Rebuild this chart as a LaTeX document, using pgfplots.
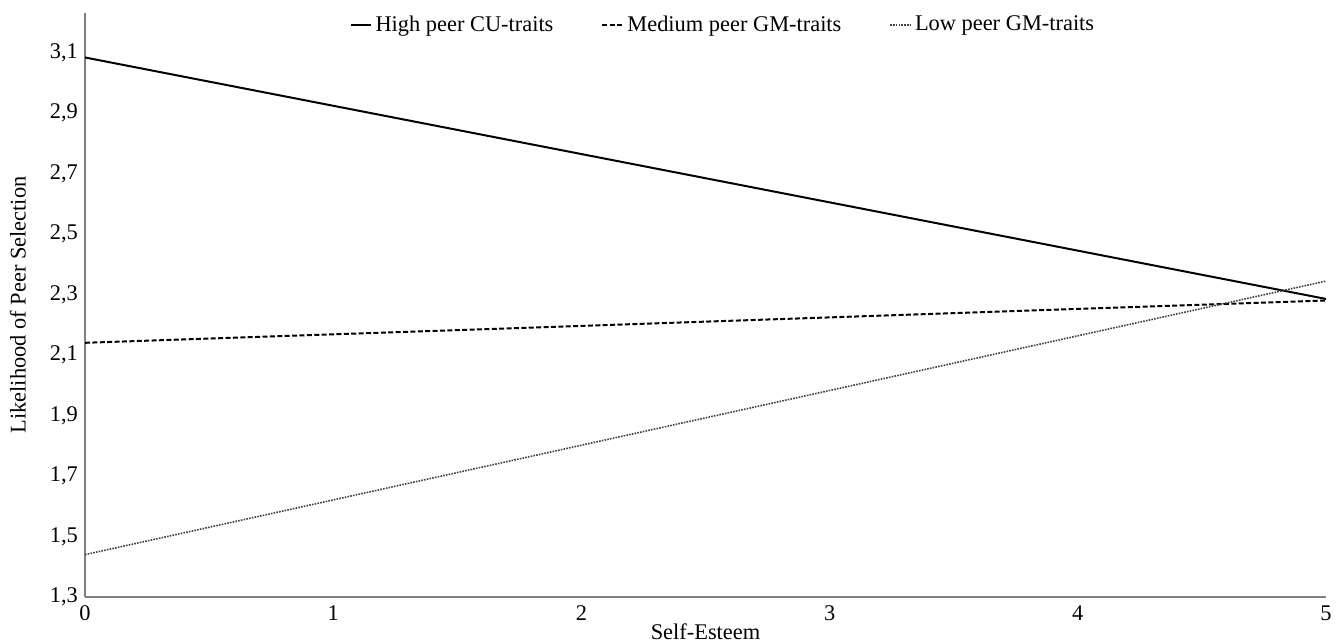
\documentclass[border=0pt]{standalone}
\usepackage{fontspec}
\setmainfont{Liberation Serif}
\usepackage{pgfplots}
\pgfplotsset{compat=1.18}
\begin{document}
\begin{tikzpicture}
\useasboundingbox (0,0) rectangle (670pt,321pt);
\begin{axis}[
  at={(42.5pt,22.5pt)}, anchor=south west,
  scale only axis, width=620.5pt, height=292pt,
  font=\fontsize{11.2}{13}\selectfont,
  xmin=0, xmax=5, ymin=1.3, ymax=3.23,
  axis x line*=bottom, axis y line*=left,
  axis line style={draw=black!50, line width=0.6pt, -},
  xtick={0,1,2,3,4,5},
  ytick={1.3,1.5,1.7,1.9,2.1,2.3,2.5,2.7,2.9,3.1},
  major tick length=0pt,
  /pgf/number format/assume math mode=true,
  yticklabel style={/pgf/number format/fixed, /pgf/number format/fixed zerofill, /pgf/number format/precision=1, /pgf/number format/use comma},
  xticklabel style={/pgf/number format/fixed, /pgf/number format/precision=0, yshift=-1pt},
  xlabel={Self-Esteem},
  ylabel={Likelihood of Peer Selection},
  xlabel style={at={(0.5,0)}, anchor=north, yshift=-10pt},
  ylabel style={at={(0,0.5)}, anchor=south, yshift=26pt},
  legend columns=3,
  legend style={draw=none, fill=none, at={(0.208,1.01)}, anchor=north west,
    /tikz/every even column/.append style={column sep=22pt},
    font=\fontsize{11.2}{13}\selectfont},
  legend image code/.code={\draw[#1] (0pt,0pt) -- (10pt,0pt);},
]
\addplot[black, line width=1pt] coordinates {(0,3.083) (5,2.285)};
\addlegendentry{High peer CU-traits}
\addplot[black, line width=1pt, dash pattern=on 2.5pt off 1.2pt] coordinates {(0,2.14) (5,2.28)};
\addlegendentry{Medium peer GM-traits}
\addplot[black!75, line width=0.8pt, dash pattern=on 0.8pt off 0.6pt] coordinates {(0,1.44) (5,2.344)};
\addlegendentry{Low peer GM-traits}
\end{axis}
\end{tikzpicture}
\end{document}
